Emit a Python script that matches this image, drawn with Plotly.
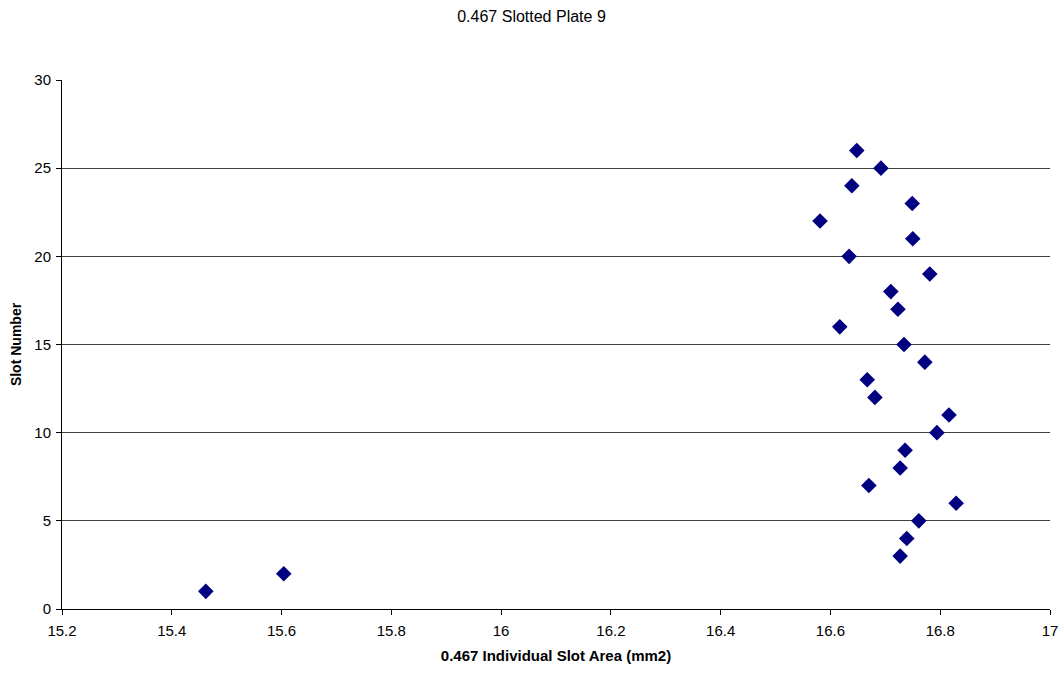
import plotly.graph_objects as go

# Slot measurements for plate 9
slot_number = list(range(1, 27))
slot_area = [
    15.462, 15.604, 16.727, 16.739, 16.761, 16.829, 16.670, 16.727,
    16.736, 16.794, 16.816, 16.681, 16.667, 16.772, 16.734, 16.617,
    16.723, 16.710, 16.781, 16.634, 16.750, 16.581, 16.749, 16.639,
    16.692, 16.648,
]
x_ticks = [15.2, 15.4, 15.6, 15.8, 16, 16.2, 16.4, 16.6, 16.8, 17]
y_ticks = [0, 5, 10, 15, 20, 25, 30]

fig = go.Figure(
    go.Scatter(
        x=slot_area,
        y=slot_number,
        mode="markers",
        marker=dict(symbol="diamond", size=12, color="#000080"),
        showlegend=False,
    )
)

fig.update_layout(
    width=1063,
    height=673,
    paper_bgcolor="white",
    plot_bgcolor="white",
    margin=dict(l=62, r=13, t=80, b=64),
    font=dict(family="Liberation Sans, Arial, sans-serif", size=15, color="black"),
    title=dict(
        text="0.467 Slotted Plate 9",
        x=0.5,
        xanchor="center",
        y=1 - 16 / 673,
        yanchor="middle",
        font=dict(size=16),
    ),
)

fig.update_xaxes(
    range=[15.2, 17],
    tickvals=x_ticks,
    ticktext=[f"{v:g}" for v in x_ticks],
    automargin=False,
    showgrid=False,
    zeroline=False,
    showline=True,
    linecolor="black",
    linewidth=1,
    ticks="outside",
    ticklen=5,
    tickcolor="black",
    tickfont=dict(size=15),
    ticklabelstandoff=3,
    title=dict(text="<b>0.467 Individual Slot Area (mm2)</b>", font=dict(size=15), standoff=12),
)

fig.update_yaxes(
    range=[0, 30],
    tickvals=y_ticks,
    automargin=False,
    showgrid=True,
    gridcolor="#404040",
    gridwidth=1,
    zeroline=False,
    showline=True,
    linecolor="black",
    linewidth=1,
    ticks="outside",
    ticklen=5,
    tickcolor="black",
    tickfont=dict(size=15),
    ticklabelstandoff=2,
    title=dict(text="<b>Slot Number</b>", font=dict(size=14), standoff=9),
)

fig.write_html("out.html")
